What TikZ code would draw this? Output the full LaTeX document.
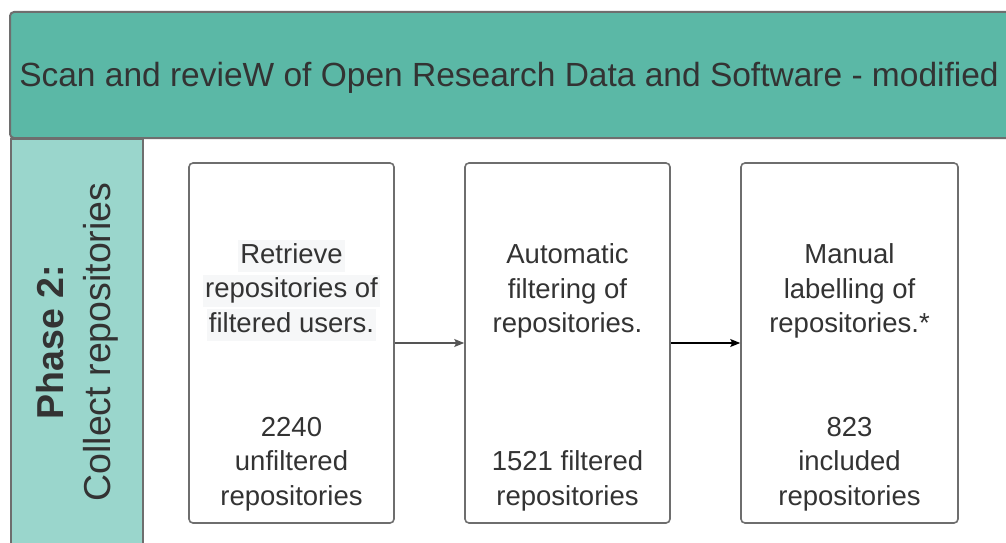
\documentclass[tikz,border=0pt]{standalone}
\usepackage{fontspec}
\setmainfont{Liberation Sans}
\usetikzlibrary{arrows.meta}
\definecolor{hdr}{HTML}{5BB8A6}
\definecolor{lanec}{HTML}{9AD6CC}
\definecolor{bord}{HTML}{6E6E6E}
\definecolor{txt}{HTML}{333333}
\definecolor{hl}{HTML}{F6F7F8}
\definecolor{arrg}{HTML}{555555}
\tikzset{
  stepbox/.style={draw=bord, line width=1.6pt, rounded corners=4pt, fill=white, minimum width=205pt, minimum height=360pt, inner sep=0pt},
  lbl/.style={text=txt, font=\fontsize{27.5}{34.5}\selectfont, align=center, inner sep=0pt},
  hlline/.style={text=txt, font=\fontsize{27.5}{34.5}\selectfont, fill=hl, inner xsep=2pt, inner ysep=3pt, text height=20pt, text depth=6pt},
  flow/.style={-{Stealth[length=10pt,width=8pt,inset=2pt]}, line width=1.2pt},
}
\begin{document}
\begin{tikzpicture}[x=1pt,y=-1pt]
\clip (0,0) rectangle (1006,543);
\fill[white] (0,0) rectangle (1006,543);
% header
\node[draw=bord, line width=2pt, fill=hdr, rounded corners=4pt, minimum width=1000pt, minimum height=126pt, inner sep=0pt] (hdr) at (510,75) {};
\node[text=txt, font=\fontsize{33.5}{38}\selectfont, inner sep=0pt] (hdrtxt) at (509,78) {Scan and revieW of Open Research Data and Software - modified};
% lane
\node[draw=bord, line width=2pt, fill=lanec, minimum width=132pt, minimum height=420pt, inner sep=0pt, anchor=north west] (lane) at (10,138) {};
\node[rotate=90, text=txt, align=center, font=\fontsize{37.5}{47}\selectfont] (lanetxt) at (77,342) {\textbf{Phase 2:}\\Collect repositories};
% boxes
\node[stepbox] (b1) at (291.5,343) {};
\node[stepbox] (b2) at (567.5,343) {};
\node[stepbox, minimum width=217pt] (b3) at (849.5,343) {};
% box 1 texts
\node[hlline] (b1l1) at (291.5,256) {Retrieve};
\node[hlline] (b1l2) at (291.5,290.5) {repositories of};
\node[hlline] (b1l3) at (291.5,325) {filtered users.};
\node[lbl] (b1b) at (291.5,464) {2240\\unfiltered\\repositories};
% box 2 texts
\node[lbl] (b2t) at (567.5,291) {Automatic\\filtering of\\repositories.};
\node[lbl] (b2b) at (567.5,481) {1521 filtered\\repositories};
% box 3 texts
\node[lbl] (b3t) at (849.5,291) {Manual\\labelling of\\repositories.*};
\node[lbl] (b3b) at (849.5,464) {823\\included\\repositories};
% arrows
\draw[flow, draw=arrg, fill=arrg] (b1.east) -- (b2.west);
\draw[flow, draw=black, fill=black] (b2.east) -- (b3.west);
\end{tikzpicture}
\end{document}
